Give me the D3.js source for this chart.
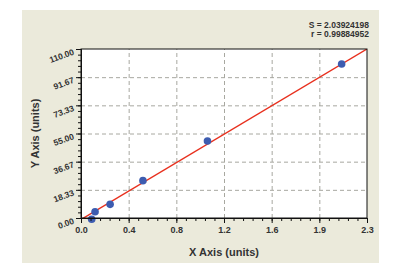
<html>
<head>
<script src="https://d3js.org/d3.v7.min.js"></script>
<style>
  body { margin: 0; background: #fff; }
  text { font-family: "Liberation Sans", Arial, sans-serif; font-weight: bold; fill: #333; }
  .gridlines line { stroke: #a8a8a0; stroke-dasharray: 4,3; }
  .gridlines .domain { stroke: none; }
</style>
</head>
<body>
<script>
// data
const xVals = [0.086, 0.113, 0.234, 0.498, 1.017, 2.096];
const yVals = [-0.8, 4.1, 8.9, 24.3, 50.1, 100.2];
const fitX = [0, 2.3];
const fitY = [-1.0, 110.0];
const xTickLabels = ['0.0', '0.4', '0.8', '1.2', '1.6', '1.9', '2.3'];
const yTickLabels = ['0.00', '18.33', '36.67', '55.00', '73.33', '91.67', '110.00'];
const statLines = ['S = 2.03924198', 'r = 0.99884952'];

const width = 403, height = 263;
const margins = {top: 49, right: 36, bottom: 45, left: 81};
const chartWidth = width - margins.left - margins.right;
const chartHeight = height - margins.top - margins.bottom;

let svg = d3.select('body').append('svg')
  .attr('width', width).attr('height', height);

// beige frame
svg.append('rect')
  .attr('x', 22).attr('y', 10).attr('width', 357).attr('height', 253)
  .attr('fill', '#ebeadb');

let xScale = d3.scaleLinear().domain([0, 2.3]).range([0, chartWidth]);
let yScale = d3.scaleLinear().domain([0, 110]).range([chartHeight, 0]);

const xMajor = d3.range(7).map(i => i * 2.3 / 6);
const yMajor = d3.range(7).map(i => i * 110 / 6);
const xMinor = d3.range(31).map(i => i * 2.3 / 30);
const yMinor = d3.range(31).map(i => i * 110 / 30);

let chart = svg.append('g')
  .attr('transform', `translate(${margins.left},${margins.top})`);

chart.append('rect')
  .attr('width', chartWidth).attr('height', chartHeight)
  .attr('fill', '#fff');

// grid
chart.append('g').attr('class', 'gridlines')
  .call(d3.axisLeft(yScale).tickValues(yMajor.slice(1, 6)).tickFormat('').tickSize(-chartWidth));
chart.append('g').attr('class', 'gridlines')
  .attr('transform', `translate(0,${chartHeight})`)
  .call(d3.axisBottom(xScale).tickValues(xMajor.slice(1, 6)).tickFormat('').tickSize(-chartHeight));

// clip
chart.append('clipPath').attr('id', 'clip')
  .append('rect').attr('width', chartWidth).attr('height', chartHeight);

// fit line
chart.append('path')
  .datum(fitX.map((x, i) => [x, fitY[i]]))
  .attr('clip-path', 'url(#clip)')
  .attr('fill', 'none')
  .attr('stroke', '#e8301e')
  .attr('stroke-width', 1.4)
  .attr('d', d3.line().x(d => xScale(d[0])).y(d => yScale(d[1])));

// points
chart.selectAll('circle.pt')
  .data(xVals.map((x, i) => [x, yVals[i]]))
  .enter().append('circle')
  .attr('class', 'pt')
  .attr('cx', d => xScale(d[0]))
  .attr('cy', d => yScale(d[1]))
  .attr('r', 3.8)
  .attr('fill', '#3d5cb0');

// border
chart.append('rect')
  .attr('width', chartWidth).attr('height', chartHeight)
  .attr('fill', 'none').attr('stroke', '#111').attr('stroke-width', 1);

// minor ticks
let xMinAxis = chart.append('g')
  .attr('transform', `translate(0,${chartHeight})`)
  .call(d3.axisBottom(xScale).tickValues(xMinor).tickFormat('').tickSize(3));
let yMinAxis = chart.append('g')
  .call(d3.axisLeft(yScale).tickValues(yMinor).tickFormat('').tickSize(3));

// major axes
let xAxis = chart.append('g')
  .attr('transform', `translate(0,${chartHeight})`)
  .call(d3.axisBottom(xScale).tickValues(xMajor)
    .tickFormat((d, i) => xTickLabels[i]).tickSize(5).tickPadding(4));
let yAxis = chart.append('g')
  .call(d3.axisLeft(yScale).tickValues(yMajor)
    .tickFormat((d, i) => yTickLabels[i]).tickSize(5).tickPadding(3));

[xMinAxis, yMinAxis, xAxis, yAxis].forEach(a => {
  a.select('.domain').attr('stroke', '#111');
  a.selectAll('.tick line').attr('stroke', '#111');
});

xAxis.selectAll('text').attr('font-size', 9).attr('fill', '#333');
yAxis.selectAll('text')
  .attr('font-size', 8.5).attr('fill', '#333')
  .attr('transform', 'rotate(-20,-8,0)')
  .attr('dy', '0.6em');

// axis titles
svg.append('text')
  .attr('x', margins.left + chartWidth / 2).attr('y', 256)
  .attr('text-anchor', 'middle').attr('font-size', 11)
  .text('X Axis (units)');
svg.append('text')
  .attr('transform', `translate(39,${margins.top + chartHeight / 2}) rotate(-90)`)
  .attr('text-anchor', 'middle').attr('font-size', 11)
  .text('Y Axis (units)');

// stats
svg.selectAll('text.stat')
  .data(statLines).enter().append('text')
  .attr('class', 'stat')
  .attr('x', 369).attr('y', (d, i) => 28 + i * 9)
  .attr('text-anchor', 'end').attr('font-size', 8.5)
  .text(d => d);
</script>
</body>
</html>
